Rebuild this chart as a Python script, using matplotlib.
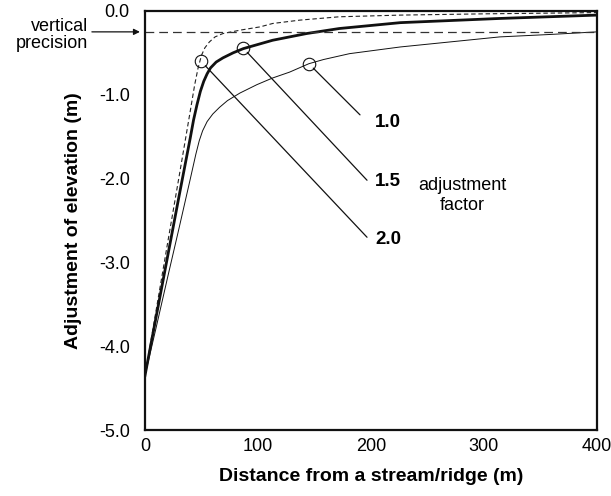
import numpy as np
import matplotlib
matplotlib.use('Agg')
import matplotlib.pyplot as plt
from matplotlib.ticker import FormatStrFormatter

plt.rcParams['font.family'] = ['Liberation Sans', 'DejaVu Sans']

# 调整系数 2.0（虚线）
dist_20 = [0, 10, 20, 30, 40, 44, 47, 50, 53, 57, 62, 69, 84, 102, 113, 137, 172, 226, 300, 400]
elev_20 = [-4.35, -3.56, -2.77, -1.99, -1.2, -0.88, -0.68, -0.53, -0.44, -0.37, -0.31, -0.27,
           -0.23, -0.19, -0.15, -0.11, -0.07, -0.05, -0.035, -0.02]

# 调整系数 1.5（粗实线）
dist_15 = [0, 10, 20, 30, 40, 43, 46, 49, 52, 55, 58, 63, 69, 78, 87, 100, 113, 143, 172, 226, 314, 400]
elev_15 = [-4.35, -3.64, -2.93, -2.22, -1.52, -1.3, -1.12, -0.96, -0.84, -0.75, -0.68, -0.61,
           -0.56, -0.50, -0.45, -0.40, -0.35, -0.27, -0.21, -0.14, -0.09, -0.05]

# 调整系数 1.0（细实线）
dist_10 = [0, 10, 20, 30, 40, 45, 48, 51, 55, 60, 66, 73, 84, 99, 113, 128, 145, 158, 181, 226, 270, 314, 360, 400]
elev_10 = [-4.35, -3.77, -3.18, -2.6, -2.01, -1.71, -1.55, -1.43, -1.32, -1.23, -1.15, -1.07, -0.98,
           -0.88, -0.80, -0.73, -0.63, -0.58, -0.51, -0.43, -0.37, -0.31, -0.28, -0.25]

precision = -0.25

# 圆圈标记及其文字标签
factor_labels = ['2.0', '1.5', '1.0']
circle_x = [49.6, 86.7, 145]
circle_y = [-0.60, -0.44, -0.63]
leader_x = [196.5, 196.5, 190.3]
leader_y = [-2.70, -2.02, -1.24]
label_x = [203.5, 203.5, 203.5]
label_y = [-2.73, -2.04, -1.33]

xticks = [0, 100, 200, 300, 400]
yticks = [0.0, -1.0, -2.0, -3.0, -4.0, -5.0]

fig = plt.figure(figsize=(6.11, 4.96), dpi=100)
ax = fig.add_axes([0.2373, 0.133, 0.7397, 0.845])

ax.plot(dist_20, elev_20, color='#222222', lw=0.8, linestyle=(0, (4, 2.5)))
ax.plot(dist_15, elev_15, color='#111111', lw=2.0)
ax.plot(dist_10, elev_10, color='#111111', lw=0.7)
ax.plot([0, 400], [precision, precision], color='#333333', lw=0.9,
        linestyle=(0, (7, 4)))

ax.plot(circle_x, circle_y, 'o', ms=9, mfc='none', mec='#111111', mew=0.8)
for i in range(3):
    ax.annotate('', xy=(leader_x[i], leader_y[i]), xytext=(circle_x[i], circle_y[i]),
                arrowprops={'arrowstyle': '-', 'color': '#111111', 'lw': 0.9,
                            'shrinkA': 4.5, 'shrinkB': 0})
    ax.text(label_x[i], label_y[i], factor_labels[i], fontsize=13.5, fontweight='bold',
            ha='left', va='center')

ax.text(281, -2.2, 'adjustment\nfactor', fontsize=13, ha='center', va='center',
        linespacing=1.2)

# 垂直精度标注
ax.annotate('', xy=(-4.5, precision), xytext=(-47, precision), xycoords='data',
            arrowprops={'arrowstyle': '-|>', 'color': '#111111', 'lw': 0.9,
                        'mutation_scale': 9, 'shrinkA': 0, 'shrinkB': 0},
            annotation_clip=False)
ax.text(-50.5, -0.29, 'vertical\nprecision', fontsize=13, ha='right', va='center',
        linespacing=1.0, clip_on=False)

ax.set_xlim(0, 400)
ax.set_ylim(-5, 0)
ax.set_xticks(xticks)
ax.set_yticks(yticks)
ax.yaxis.set_major_formatter(FormatStrFormatter('%.1f'))
ax.tick_params(length=0, labelsize=13, pad=6)
ax.tick_params(axis='y', pad=11)
for s in ax.spines.values():
    s.set_linewidth(1.6)
    s.set_color('#111111')

ax.set_xlabel('Distance from a stream/ridge (m)', fontsize=14, fontweight='bold', labelpad=9)
ax.set_ylabel('Adjustment of elevation (m)', fontsize=14, fontweight='bold', labelpad=12)

fig.savefig('out.png', dpi=100)
